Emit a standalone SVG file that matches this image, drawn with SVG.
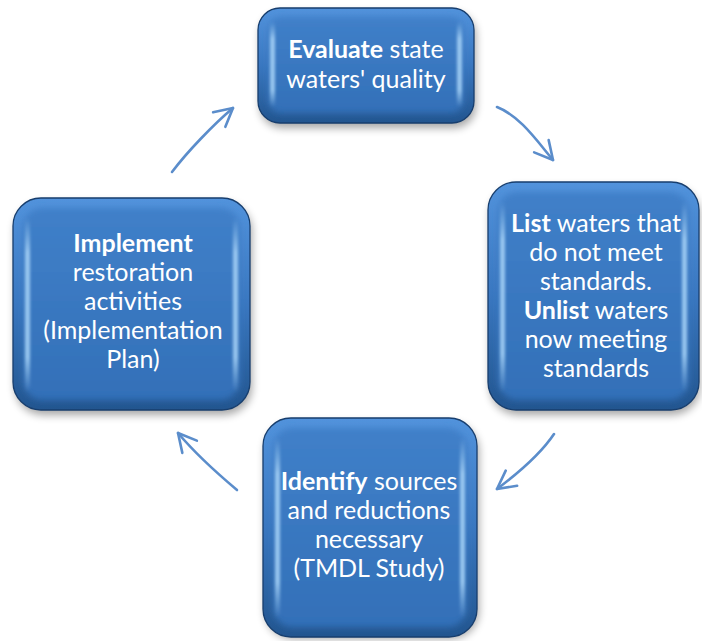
<svg xmlns="http://www.w3.org/2000/svg" width="702" height="641" viewBox="0 0 702 641">
<defs>
<linearGradient id="rim" x1="0" y1="0" x2="0" y2="1">
<stop offset="0" stop-color="#5293dc"/>
<stop offset="0.5" stop-color="#3a77c0"/>
<stop offset="1" stop-color="#22558f"/>
</linearGradient>
<linearGradient id="face" x1="0" y1="0" x2="0" y2="1">
<stop offset="0" stop-color="#4080c9"/>
<stop offset="1" stop-color="#3370b8"/>
</linearGradient>
<linearGradient id="hl" x1="0" y1="0" x2="0" y2="1">
<stop offset="0" stop-color="#a8d4f8" stop-opacity="0"/>
<stop offset="0.2" stop-color="#a8d4f8" stop-opacity="0.85"/>
<stop offset="0.8" stop-color="#a8d4f8" stop-opacity="0.85"/>
<stop offset="1" stop-color="#a8d4f8" stop-opacity="0"/>
</linearGradient>
<filter id="shadow" x="-20%" y="-20%" width="140%" height="140%">
<feGaussianBlur stdDeviation="4"/>
</filter>
<filter id="soft" x="-10%" y="-10%" width="120%" height="120%">
<feGaussianBlur stdDeviation="3"/>
</filter>
<filter id="hb" x="-100%" y="-10%" width="300%" height="120%">
<feGaussianBlur stdDeviation="1.6"/>
</filter>
<marker id="head" markerUnits="userSpaceOnUse" markerWidth="30" markerHeight="30" viewBox="-24 -15 30 30" refX="0" refY="0" orient="auto">
<path d="M -18 -9.5 L 0 0 L -18 9.5" fill="none" stroke="#5b8dcb" stroke-width="2.6" stroke-linecap="round" stroke-linejoin="round"/>
</marker>
</defs>
<style>
.sh{fill:#000;opacity:0.35;filter:url(#shadow)}
.rim{fill:url(#rim);stroke:#173e6e;stroke-width:1.3}
.face{fill:url(#face);filter:url(#soft)}
.hl{fill:url(#hl);filter:url(#hb)}
.t{font-family:Lato,"Liberation Sans",sans-serif;font-size:25px;fill:#ffffff;text-anchor:middle}
.b{font-weight:bold}
.c{fill:none;stroke:#5b8dcb;stroke-width:2.6;stroke-linecap:round;marker-end:url(#head)}
</style>
<g id="connectors">
<path class="c" d="M172 172 C187 152 214 124 233 108"/>
<path class="c" d="M497 107 C520 116 537 141 553 160"/>
<path class="c" d="M554 434 C540 455 517 474 497 489"/>
<path class="c" d="M237 490 C218 474 194 452 178 433"/>
</g>
<g id="evaluate">
<rect class="sh" x="260" y="13" width="216" height="115" rx="22"/>
<rect class="rim" x="258" y="8" width="216" height="115" rx="22"/>
<rect class="face" x="268" y="17" width="196" height="96" rx="14"/>
<rect class="hl" x="270" y="22" width="5" height="85" rx="2"/>
<rect class="hl" x="457" y="22" width="5" height="85" rx="2"/>
<text class="t" x="366" y="58"><tspan class="b">Evaluate</tspan> state</text>
<text class="t" x="366" y="88">waters' quality</text>
</g>
<g id="list">
<rect class="sh" x="490" y="187" width="210" height="228" rx="28"/>
<rect class="rim" x="488" y="182" width="211" height="228" rx="28"/>
<rect class="face" x="498" y="192" width="191" height="208" rx="20"/>
<rect class="hl" x="500" y="202" width="5" height="190" rx="2"/>
<rect class="hl" x="682" y="202" width="5" height="190" rx="2"/>
<text class="t" x="596" y="232"><tspan class="b">List</tspan> waters that</text>
<text class="t" x="596" y="261">do not meet</text>
<text class="t" x="596" y="290">standards.</text>
<text class="t" x="596" y="319"><tspan class="b">Unlist</tspan> waters</text>
<text class="t" x="596" y="348">now meeting</text>
<text class="t" x="596" y="377">standards</text>
</g>
<g id="identify">
<rect class="sh" x="265" y="423" width="214" height="216" rx="28"/>
<rect class="rim" x="263" y="418" width="214" height="219" rx="28"/>
<rect class="face" x="273" y="428" width="194" height="199" rx="20"/>
<rect class="hl" x="275" y="438" width="5" height="180" rx="2"/>
<rect class="hl" x="460" y="438" width="5" height="180" rx="2"/>
<text class="t" x="369" y="490"><tspan class="b">Identify</tspan> sources</text>
<text class="t" x="369" y="519">and reductions</text>
<text class="t" x="369" y="548">necessary</text>
<text class="t" x="369" y="577">(TMDL Study)</text>
</g>
<g id="implement">
<rect class="sh" x="15" y="203" width="237" height="212" rx="28"/>
<rect class="rim" x="13" y="198" width="237" height="212" rx="28"/>
<rect class="face" x="23" y="208" width="217" height="192" rx="20"/>
<rect class="hl" x="25" y="218" width="5" height="174" rx="2"/>
<rect class="hl" x="233" y="218" width="5" height="174" rx="2"/>
<text class="t b" x="133" y="252">Implement</text>
<text class="t" x="133" y="281">restoration</text>
<text class="t" x="133" y="310">activities</text>
<text class="t" x="133" y="339">(Implementation</text>
<text class="t" x="133" y="368">Plan)</text>
</g>
</svg>
